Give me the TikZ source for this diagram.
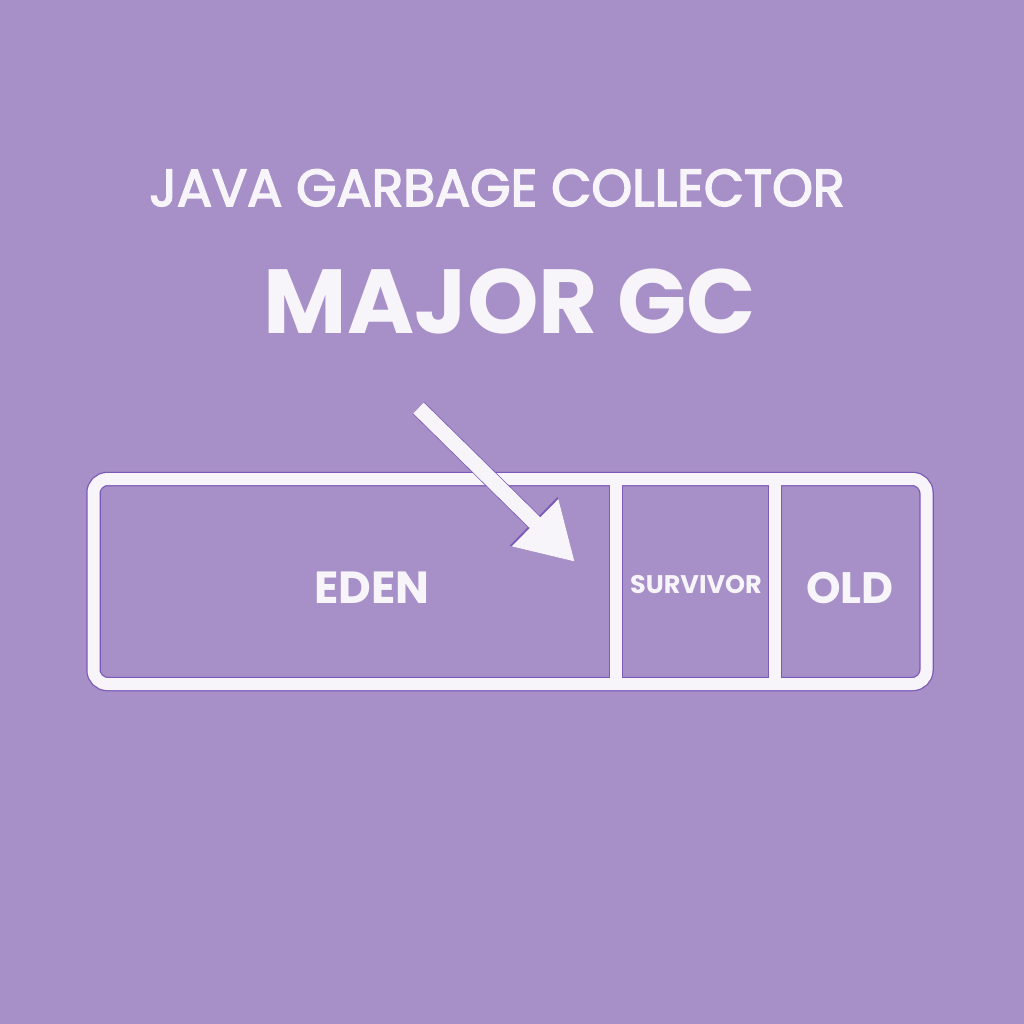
\documentclass[tikz,border=0pt]{standalone}
\usepackage{fontspec}
\setmainfont{Poppins}
\newfontfamily\popfb{Poppins}[FakeBold=3]
\usetikzlibrary{arrows.meta}
\definecolor{bg}{HTML}{A78FC8}
\definecolor{edge}{HTML}{7A5AB8}
\definecolor{ink}{HTML}{F7F4FA}
\tikzset{
  lbl/.style={text=ink, inner sep=0pt, anchor=base, font=\bfseries},
  darkline/.style={draw=edge, line width=14.5pt},
  whiteline/.style={draw=ink, line width=12pt},
}
\begin{document}
\begin{tikzpicture}[x=1pt,y=-1pt]
\fill[bg] (0,0) rectangle (1024,1024);
\useasboundingbox (0,0) rectangle (1024,1024);
% titles
\node[lbl, font=\fontsize{52}{60}\popfb] (title) at (497,206) {JAVA GARBAGE COLLECTOR};
\node[lbl, font=\fontsize{91}{100}\selectfont\bfseries] (major) at (510,333) {MAJOR GC};
% memory box
\coordinate (tl) at (93.5,479);
\coordinate (br) at (926.5,684);
\coordinate (d1t) at (616,479);
\coordinate (d1b) at (616,684);
\coordinate (d2t) at (775,479);
\coordinate (d2b) at (775,684);
\coordinate (atail) at (418.5,408);
\coordinate (atip) at (575,562);
\draw[darkline, rounded corners=14] (tl) rectangle (br);
\draw[darkline] (d1t) -- (d1b);
\draw[darkline] (d2t) -- (d2b);
\draw[whiteline, rounded corners=14] (tl) rectangle (br);
\draw[whiteline] (d1t) -- (d1b);
\draw[whiteline] (d2t) -- (d2b);
% labels
\node[lbl, font=\fontsize{45}{50}\selectfont\bfseries] (eden) at (372,603) {EDEN};
\node[lbl, font=\fontsize{25.5}{30}\selectfont\bfseries] (surv) at (696,593) {SURVIVOR};
\node[lbl, font=\fontsize{44}{50}\selectfont\bfseries] (old) at (850,603) {OLD};
% arrow
\draw[draw=edge, line width=16.5pt, -{Triangle[width=64pt,length=58pt]}, fill=edge] (atail) -- (atip);
\draw[draw=ink, line width=15pt, -{Triangle[width=62pt,length=56pt]}, fill=ink] (atail) -- (atip);
\end{tikzpicture}
\end{document}
